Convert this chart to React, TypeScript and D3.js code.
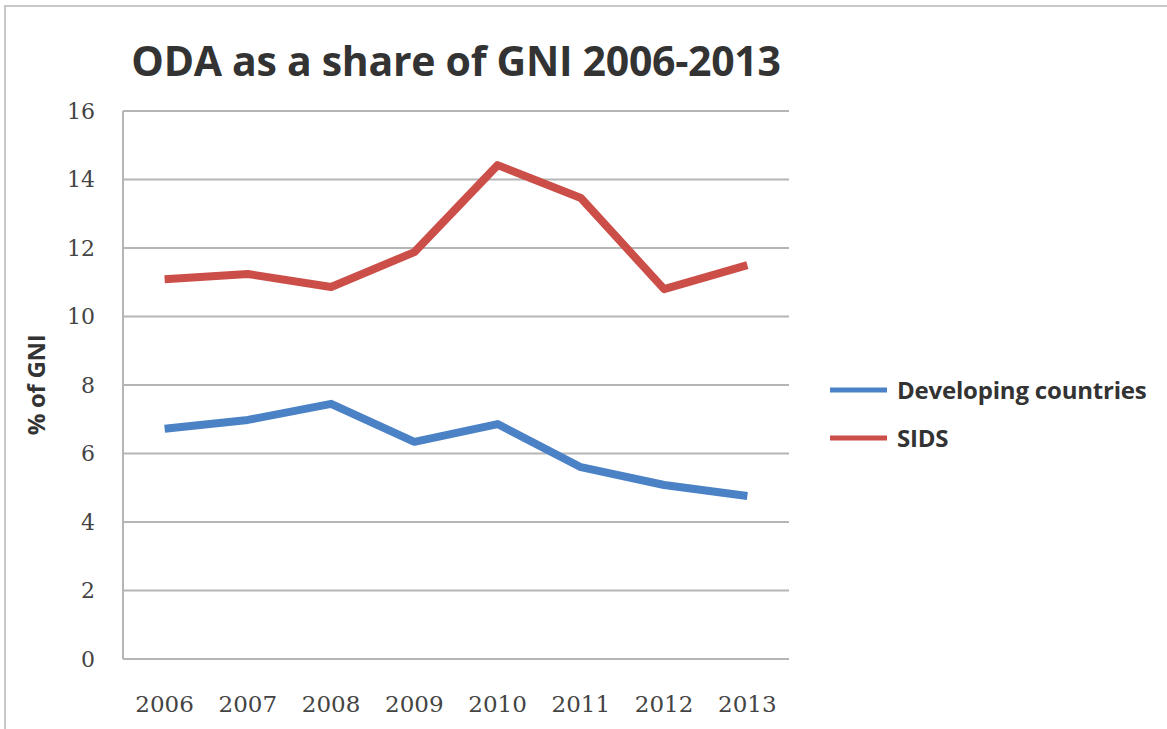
import React from "react";
import * as d3 from "d3";

const years = ["2006", "2007", "2008", "2009", "2010", "2011", "2012", "2013"];
const developing = [6.72, 6.98, 7.45, 6.34, 6.86, 5.6, 5.08, 4.76];
const sids = [11.09, 11.24, 10.86, 11.88, 14.42, 13.46, 10.8, 11.5];
const yTicks = [0, 2, 4, 6, 8, 10, 12, 14, 16];
const seriesNames = ["Developing countries", "SIDS"];
const seriesColors = ["#4b82c6", "#cc4e49"];

export default function App() {
  const W = 1167, H = 729;
  const left = 123, right = 789, top = 111, bottom = 659;
  const x = d3.scalePoint<string>().domain(years).range([left, right]).padding(0.5);
  const y = d3.scaleLinear().domain([0, 16]).range([bottom, top]);
  const line = d3.line<number>().x((_, i) => x(years[i])!).y((d) => y(d));
  const series = [developing, sids];
  const serif = "'DejaVu Serif', 'Liberation Serif', serif";
  const sans = "'Open Sans', 'Noto Sans', sans-serif";
  return (
    <svg width={W} height={H} style={{ position: "absolute", left: 0, top: 0, background: "#fff" }}>
      <rect x={5} y={6} width={W + 10} height={H + 10} fill="#fff" stroke="#c8c8c8" strokeWidth={2} />
      <text x={456} y={76} textAnchor="middle" fontFamily={sans} fontWeight={700} fontSize={41} fill="#333" letterSpacing={-0.3}>
        ODA as a share of GNI 2006-2013
      </text>
      {yTicks.map((t) => (
        <g key={t}>
          <line x1={left} x2={right} y1={y(t)} y2={y(t)} stroke="#b5b5b5" strokeWidth={2} />
          <text x={95} y={y(t)} dy="0.36em" textAnchor="end" fontFamily={serif} fontSize={22} fill="#444">
            {t}
          </text>
        </g>
      ))}
      <line x1={left} x2={left} y1={top} y2={bottom} stroke="#b5b5b5" strokeWidth={2} />
      {years.map((yr) => (
        <text key={yr} x={x(yr)} y={712} textAnchor="middle" fontFamily={serif} fontSize={23} fill="#444">
          {yr}
        </text>
      ))}
      <text transform="translate(45,385) rotate(-90)" textAnchor="middle" fontFamily={sans} fontWeight={700} fontSize={24} fill="#333" letterSpacing={-0.3}>
        % of GNI
      </text>
      {series.map((s, i) => (
        <path key={i} d={line(s)!} fill="none" stroke={seriesColors[i]} strokeWidth={8} strokeLinejoin="round" />
      ))}
      {seriesNames.map((n, i) => (
        <g key={n}>
          <line x1={830} x2={887} y1={390 + i * 48} y2={390 + i * 48} stroke={seriesColors[i]} strokeWidth={5} />
          <text x={897} y={390 + i * 48} dy="0.36em" fontFamily={sans} fontWeight={700} fontSize={24} fill="#333" letterSpacing={-0.2}>
            {n}
          </text>
        </g>
      ))}
    </svg>
  );
}
